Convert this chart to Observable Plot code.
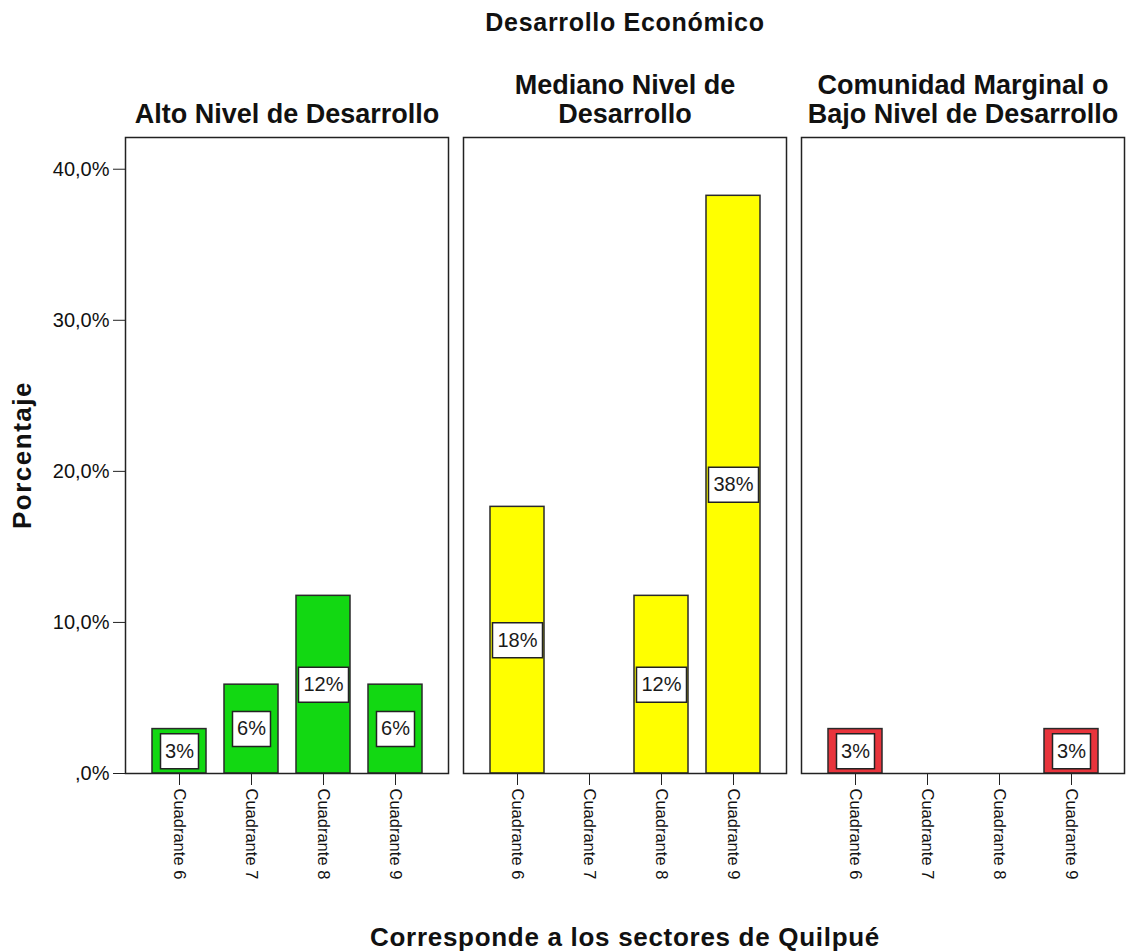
<!DOCTYPE html>
<html>
<head>
<meta charset="utf-8">
<script src="https://cdn.jsdelivr.net/npm/d3@7"></script>
<script src="https://cdn.jsdelivr.net/npm/@observablehq/plot@0.6"></script>
<style>
  html, body { margin: 0; padding: 0; background: #fff; }
  #wrap { position: relative; width: 1131px; height: 951px; font-family: "Liberation Sans", Arial, sans-serif; color: #111; }
  .t { position: absolute; white-space: nowrap; font-weight: bold; }
  #title { left: 625px; top: 22px; transform: translate(-50%, -50%); font-size: 25px; letter-spacing: 0.7px; }
  #xtitle { left: 625px; top: 937px; transform: translate(-50%, -50%); font-size: 26px; letter-spacing: 0.7px; }
  #ytitle { left: 22px; top: 455px; transform: translate(-50%, -50%) rotate(-90deg); font-size: 26px; letter-spacing: 1.5px; }
</style>
</head>
<body>
<div id="wrap">
  <div id="chart"></div>
  <div class="t" id="title">Desarrollo Económico</div>
  <div class="t" id="xtitle">Corresponde a los sectores de Quilpué</div>
  <div class="t" id="ytitle">Porcentaje</div>
</div>
<script>
const grupos = ["Alto Nivel de Desarrollo", "Mediano Nivel de Desarrollo", "Comunidad Marginal o Bajo Nivel de Desarrollo"];
const titulosFacet = ["Alto Nivel de Desarrollo", "Mediano Nivel de\nDesarrollo", "Comunidad Marginal o\nBajo Nivel de Desarrollo"];
const cuadrantes = ["Cuadrante 6", "Cuadrante 7", "Cuadrante 8", "Cuadrante 9"];
const altoPct = [2.94, 5.88, 11.76, 5.88];
const medianoPct = [17.65, 0, 11.76, 38.24];
const bajoPct = [2.94, 0, 0, 2.94];
const colores = ["#12d812", "#ffff00", "#e8343c"];
const yTicks = [0, 10, 20, 30, 40];

const series = [altoPct, medianoPct, bajoPct];
const rows = [];
series.forEach((vals, gi) => vals.forEach((v, ci) => rows.push({
  grupo: grupos[gi], cuadrante: cuadrantes[ci], pct: v, etiqueta: Math.round(v) + "%"
})));
const barras = rows.filter(d => d.pct > 0);
const cortas = barras.filter(d => d.etiqueta.length <= 2);
const largas = barras.filter(d => d.etiqueta.length > 2);
const cabeceras = grupos.map((g, i) => ({grupo: g, titulo: titulosFacet[i]}));

const boxSym = (w, h) => ({draw(ctx) { ctx.rect(-w / 2, -h / 2, w, h); }});
const fmtY = v => (v === 0 ? "" : String(v)) + ",0%";

const chart = Plot.plot({
  width: 1131,
  height: 951,
  marginTop: 137,
  marginLeft: 125,
  marginRight: 7,
  marginBottom: 178,
  style: {fontFamily: "'Liberation Sans', Arial, sans-serif", background: "white", color: "#111"},
  fx: {domain: grupos, paddingInner: 0.045, paddingOuter: 0, axis: null, label: null},
  x: {domain: cuadrantes, paddingInner: 0.255, paddingOuter: 0.345, label: null},
  y: {domain: [0, 42.1], label: null},
  color: {domain: grupos, range: colores},
  marks: [
    Plot.barY(barras, {fx: "grupo", x: "cuadrante", y: "pct", fill: "grupo", stroke: "#2a2a2a", strokeWidth: 1.5}),
    Plot.dot(cortas, {fx: "grupo", x: "cuadrante", y: d => d.pct / 2, symbol: boxSym(38, 35), fill: "white", stroke: "#222", strokeWidth: 1.5}),
    Plot.dot(largas, {fx: "grupo", x: "cuadrante", y: d => d.pct / 2, symbol: boxSym(50, 35), fill: "white", stroke: "#222", strokeWidth: 1.5}),
    Plot.text(barras, {fx: "grupo", x: "cuadrante", y: d => d.pct / 2, text: "etiqueta", fontSize: 20, fill: "#1a1a1a"}),
    Plot.frame({stroke: "#222", strokeWidth: 1.5}),
    Plot.axisY({ticks: yTicks, tickFormat: fmtY, fontSize: 20, tickSize: 12, tickPadding: 4, stroke: "#222", label: null}),
    Plot.axisX({tickRotate: 90, fontSize: 16.5, tickSize: 12, tickPadding: 3, stroke: "#222", label: null}),
    Plot.text(cabeceras, {fx: "grupo", text: "titulo", frameAnchor: "top", lineAnchor: "bottom", dy: -15, fontSize: 27, fontWeight: "bold", lineHeight: 1.05, fill: "#111"})
  ]
});
document.getElementById("chart").appendChild(chart);
</script>
</body>
</html>
